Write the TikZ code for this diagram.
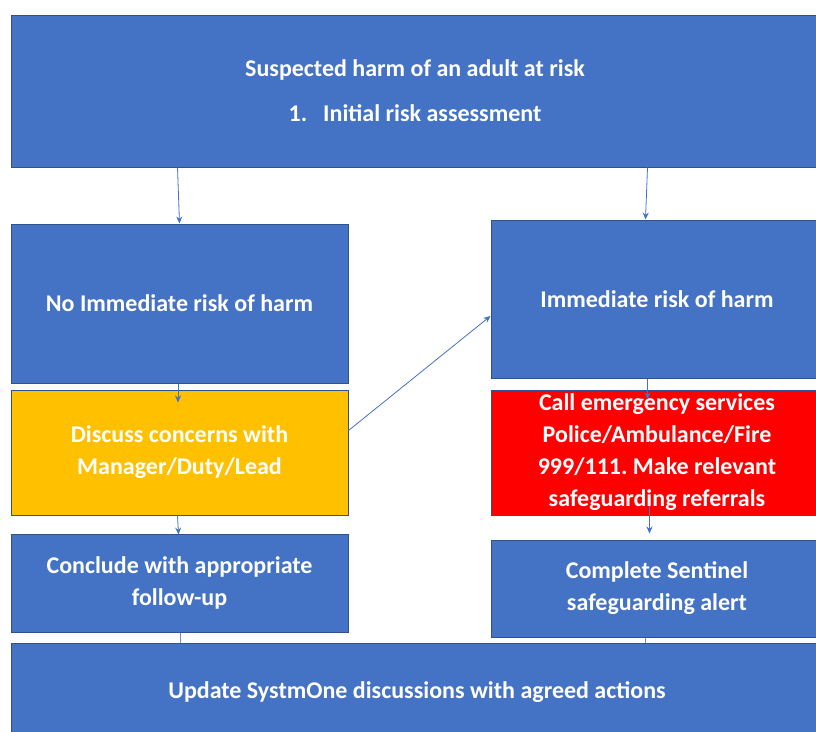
\documentclass[tikz,border=0pt]{standalone}
\usepackage{fontspec}
\setmainfont{Carlito}
\frenchspacing
\usetikzlibrary{calc,arrows.meta}
\definecolor{boxblue}{HTML}{4472C4}
\definecolor{edgeblue}{HTML}{2F528F}
\definecolor{amber}{HTML}{FFC000}
\definecolor{alarm}{HTML}{FF0000}
\tikzset{
  flowbox/.style={draw=edgeblue, line width=1pt, fill=boxblue, text=white,
    font=\fontsize{24}{32}\selectfont\bfseries, align=center, inner sep=0pt},
  arr/.style={draw=boxblue, line width=0.8pt, -{Stealth[length=7pt,width=6pt]}},
  link/.style={draw=boxblue!80, line width=0.8pt},
}
\begin{document}
\begin{tikzpicture}[x=1pt,y=1pt]
\useasboundingbox (0,0) rectangle (816,-731);
\clip (0,0) rectangle (816,-731);
\fill[white] (0,0) rectangle (816,-731);
\node[flowbox, minimum width=808pt, minimum height=152pt] (top) at (415,-91)
  {Suspected harm of an adult at risk\\[13pt]1.\hspace{16pt}Initial risk assessment};
\node[flowbox, minimum width=337pt, minimum height=159pt] (noimm) at (179.5,-303.5)
  {No Immediate risk of harm};
\node[flowbox, minimum width=332pt, minimum height=158pt] (imm) at (657,-299)
  {Immediate risk of harm};
\node[flowbox, fill=amber, minimum width=337pt, minimum height=125pt] (discuss) at (179.5,-452.5)
  {Discuss concerns with\\Manager/Duty/Lead};
\node[flowbox, fill=alarm, minimum width=332pt, minimum height=125pt] (call) at (657,-452.5)
  {Call emergency services\\Police/Ambulance/Fire\\999/111. Make relevant\\safeguarding referrals};
\node[flowbox, minimum width=337pt, minimum height=98pt] (conclude) at (179.5,-583)
  {Conclude with appropriate\\follow-up};
\node[flowbox, minimum width=332pt, minimum height=97pt] (sentinel) at (657,-588.5)
  {Complete Sentinel\\safeguarding alert};
\node[flowbox, minimum width=812pt, minimum height=98pt] (update) at (417,-692)
  {Update SystmOne discussions with agreed actions};
% connectors
\draw[arr] ($(top.south west)+(167,0)$) -- ($(noimm.north west)+(169,0)$);
\draw[arr] ($(top.south west)+(637,0)$) -- ($(imm.north west)+(155,0)$);
\draw[arr] ($(noimm.south west)+(167.5,0)$) -- ($(discuss.north west)+(167.5,-13)$);
\draw[arr] ($(imm.south west)+(157,0)$) -- ($(call.north west)+(157,-10)$);
\draw[arr] ($(discuss.east)+(0,22)$) -- ($(imm.west)+(0,-17)$);
\draw[arr] ($(discuss.south west)+(167,0)$) -- ($(conclude.north west)+(168,-1)$);
\draw[arr] ($(call.south west)+(159,10)$) -- ($(sentinel.north west)+(159,6)$);
\draw[link] ($(conclude.south west)+(170,0)$) -- ($(update.north west)+(170,0)$);
\draw[link] ($(sentinel.south west)+(155,0)$) -- ($(update.north west)+(635,0)$);
\end{tikzpicture}
\end{document}
